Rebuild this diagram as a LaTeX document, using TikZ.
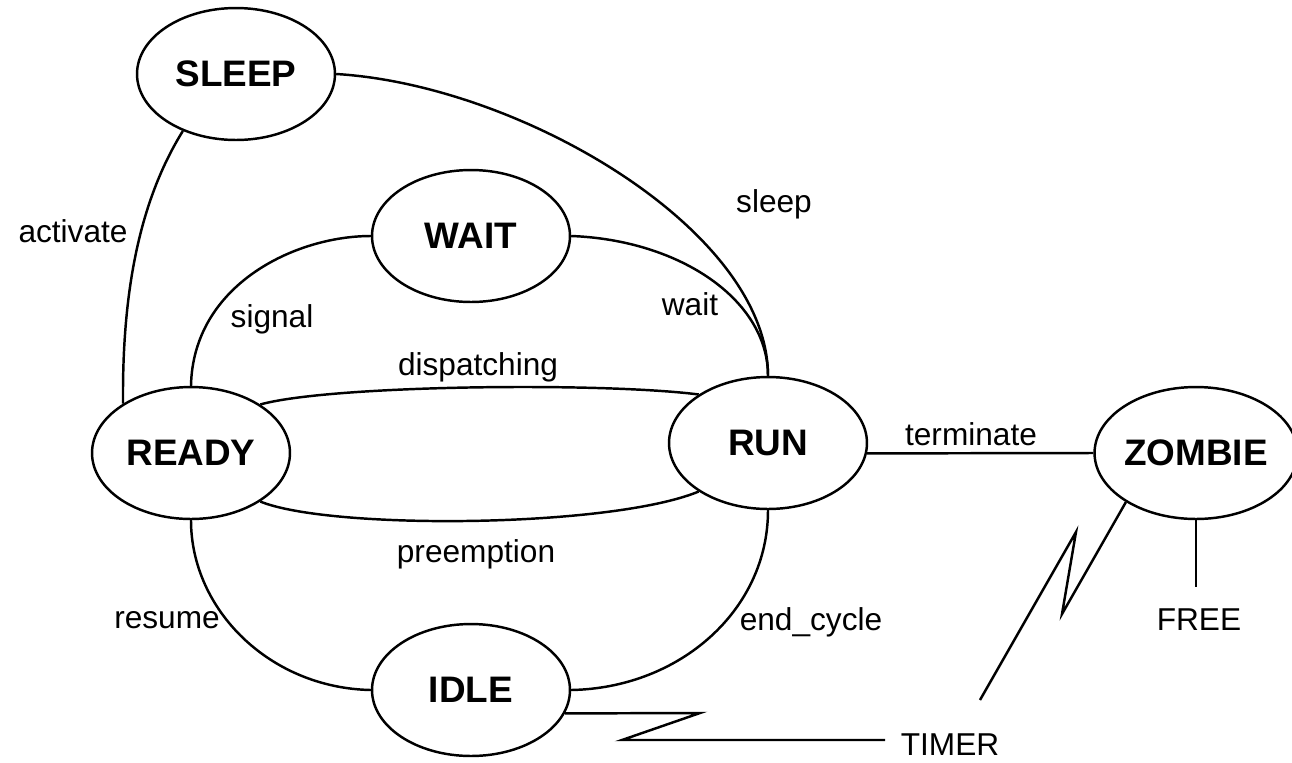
\documentclass[tikz,border=0pt]{standalone}
\usepackage{fontspec}
\setmainfont{Liberation Sans}
\usetikzlibrary{shapes.geometric}

\begin{document}
\begin{tikzpicture}[x=0.02cm,y=-0.02cm,line width=1.4pt,state/.style={draw,ellipse,minimum width=3.96cm,minimum height=2.64cm,inner sep=0pt,font=\bfseries\fontsize{21}{24}\selectfont},lbl/.style={anchor=base,inner sep=1pt,font=\fontsize{18}{20}\selectfont}]
  \useasboundingbox (0,0) rectangle (1292,762);
  \node[state] (sleep) at (236,74) {SLEEP};
  \node[state] (wait) at (471,236) {WAIT};
  \node[state] (ready) at (191,453) {READY};
  \node[state] (run) at (768,443) {RUN};
  \node[state] (zombie) at (1196,453) {ZOMBIE};
  \node[state] (idle) at (471,690) {IDLE};
  \node[lbl] (activate) at (73,242) {activate};
  \node[lbl] (signal) at (272,327) {signal};
  \node[lbl] (sleeplbl) at (774,212) {sleep};
  \node[lbl] (waitlbl) at (690,315) {wait};
  \node[lbl] (dispatching) at (478,375) {dispatching};
  \node[lbl] (preemption) at (476,562) {preemption};
  \node[lbl] (resume) at (167,628) {resume};
  \node[lbl] (endcycle) at (811,630) {end\_cycle};
  \node[lbl] (terminate) at (971,445) {terminate};
  \node[lbl] (free) at (1199,630) {FREE};
  \node[lbl] (timer) at (950,755) {TIMER};
  \draw (sleep.-133) .. controls (140,200) and (122,290) .. (ready.144);
  \draw (sleep.east) .. controls (520,85) and (768,230) .. (run.north);
  \draw (wait.east) .. controls (680,240) and (768,300) .. (run.north);
  \draw (wait.west) .. controls (295,236) and (193,285) .. (ready.north);
  \draw (ready.35) .. controls (330,385) and (600,382) .. (run.145);
  \draw (ready.-35) .. controls (330,530) and (610,528) .. (run.215);
  \draw (ready.south) .. controls (191,610) and (270,688) .. (idle.west);
  \draw (run.south) .. controls (768,610) and (680,688) .. (idle.east);
  \draw (run.-6) -- (zombie.west);
  \coordinate (freeend) at (1196,587);
  \draw (zombie.south) -- (freeend);
  % timer zigzags
  \coordinate (t1) at (700,713);
  \coordinate (t2) at (622,740);
  \coordinate (t3) at (885,740);
  \draw (idle.-14) -- (t1) -- (t2) -- (t3);
  \coordinate (z1) at (1062,614);
  \coordinate (z2) at (1076,532);
  \coordinate (z3) at (980,700);
  \draw (zombie.-145) -- (z1) -- (z2) -- (z3);
\end{tikzpicture}
\end{document}
